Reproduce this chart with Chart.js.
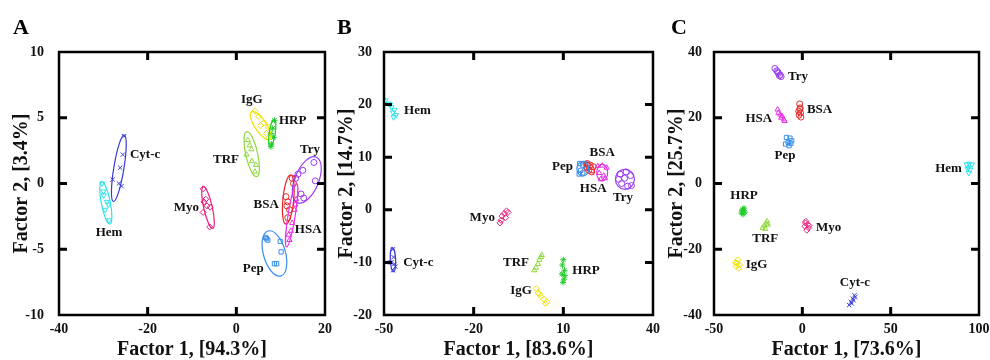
<!DOCTYPE html>
<html>
<head>
<meta charset="utf-8">
<script src="https://cdn.jsdelivr.net/npm/chart.js@4.4.1/dist/chart.umd.min.js"></script>
<style>
    html, body { margin: 0; padding: 0; background: #fff; }
    #wrap { position: relative; width: 990px; height: 360px; overflow: hidden; }
    .panel { position: absolute; top: 0; height: 360px; }
</style>
</head>
<body>
<div id="wrap">
    <div class="panel" style="left:0;width:345px"><canvas id="chartA"></canvas></div>
    <div class="panel" style="left:330px;width:345px"><canvas id="chartB"></canvas></div>
    <div class="panel" style="left:660px;width:330px"><canvas id="chartC"></canvas></div>
</div>
<script>
    const proteins = ['Hem', 'Cyt-c', 'Myo', 'TRF', 'IgG', 'HRP', 'Try', 'BSA', 'HSA', 'Pep'];
    const colors = ['#2fe3ea', '#3a3ad8', '#e8207c', '#8fd83c', '#f0e400', '#1fcc2a', '#9a3cf0', '#e8282a', '#e632e6', '#3a8fea'];
    const markers = ['triangle', 'crossRot', 'rectRot', 'triangle', 'rectRot', 'star', 'circle', 'circle', 'triangle', 'rect'];
    const markerRot = [180, 0, 0, 0, 0, 0, 0, 0, 0, 0];

    // panel A: scores [x, y] per protein, same order as proteins
    const pointsA = [
        [[-30.3, 0.0], [-30.0, -0.6], [-29.2, -1.4], [-28.9, -1.6], [-29.6, -2.0], [-28.7, -2.8], [-29.9, -0.9]],
        [[-25.3, 3.6], [-25.6, 2.2], [-26.2, 1.2], [-27.9, 0.3], [-26.5, 0.0], [-25.9, -0.2]],
        [[-7.5, -0.4], [-7.3, -1.4], [-6.6, -1.7], [-5.9, -1.8], [-7.5, -2.2], [-6.0, -3.3], [-6.9, -1.2]],
        [[2.6, 3.3], [2.3, 2.2], [3.4, 2.6], [3.5, 1.7], [4.4, 1.4], [4.2, 0.9], [3.0, 2.9]],
        [[4.2, 5.5], [5.0, 5.1], [6.2, 4.6], [7.2, 4.3], [6.8, 3.8], [5.4, 4.4], [7.3, 3.5]],
        [[8.6, 4.8], [8.2, 4.2], [7.8, 3.8], [8.4, 3.5], [7.9, 3.0], [7.8, 2.8]],
        [[17.5, 1.6], [15.0, 1.0], [13.9, 0.7], [17.8, 0.2], [14.6, -0.8], [15.2, -1.1], [13.4, 0.4]],
        [[12.6, 0.4], [11.2, -1.0], [11.6, -1.4], [12.0, -2.0], [11.6, -2.6], [12.9, 0.0], [11.4, -1.7]],
        [[13.5, -1.2], [13.1, -2.0], [12.6, -3.0], [12.3, -3.6], [12.0, -4.3], [11.8, -3.9], [13.3, -1.6]],
        [[6.8, -4.2], [7.1, -4.3], [9.9, -4.4], [10.1, -5.2], [9.1, -6.1], [8.6, -6.1], [6.6, -4.1]]
    ];
    // confidence ellipses: [centre x, centre y, major end x, major end y, minor/major]
    const ellipsesA = [
        [-29.44, -1.47, -30.37, 0.14, 0.21],
        [-26.5, 1.16, -25.27, 3.69, 0.15],
        [-6.39, -1.83, -7.45, -0.24, 0.2],
        [3.47, 2.23, 2.34, 3.94, 0.26],
        [5.5, 4.4, 3.4, 5.46, 0.35],
        [8.1, 3.84, 8.56, 4.88, 0.22],
        [15.9, 0.27, 18.04, 2.0, 0.48],
        [11.72, -1.22, 12.26, 0.65, 0.22],
        [12.48, -2.4, 13.6, 0.02, 0.11],
        [8.6, -5.32, 7.15, -3.61, 0.47]
    ];
    const labelsA = [
        [-28.7, -3.75, 'center'], [-24.0, 2.2, 'left'], [-8.4, -1.8, 'right'], [0.6, 1.85, 'right'],
        [3.5, 6.4, 'center'], [9.6, 4.8, 'left'], [16.6, 2.6, 'center'], [9.6, -1.6, 'right'],
        [13.2, -3.5, 'left'], [3.8, -6.5, 'center']
    ];

    // panel B
    const pointsB = [
        [[-49.5, 20.8], [-48.5, 20.2], [-47.5, 19.5], [-46.5, 19.0], [-46.0, 18.0], [-47.0, 18.5], [-48.0, 20.0], [-46.8, 17.6]],
        [[-47.0, -7.5], [-46.8, -9.0], [-47.5, -10.0], [-46.5, -10.3], [-47.0, -11.5], [-46.2, -10.8], [-48.0, -10.0]],
        [[-9.0, -0.2], [-9.8, -0.7], [-10.5, -1.2], [-10.8, -2.0], [-9.3, -1.5], [-11.2, -2.5], [-8.5, -0.5]],
        [[2.8, -8.6], [2.0, -9.5], [1.5, -10.3], [0.8, -11.0], [0.3, -11.5], [2.5, -9.0]],
        [[1.0, -15.0], [1.5, -15.8], [2.5, -16.5], [3.5, -17.0], [4.5, -17.5], [2.0, -16.0], [4.0, -17.8]],
        [[10.0, -9.5], [9.7, -10.5], [10.4, -11.5], [9.5, -12.2], [10.2, -13.2], [9.9, -13.8], [10.5, -12.5]],
        [[29.0, 6.8], [31.0, 7.2], [32.5, 6.5], [29.5, 5.0], [31.5, 4.5], [28.5, 5.8], [32.8, 4.6], [30.5, 6.0]],
        [[18.0, 8.8], [19.0, 8.5], [20.0, 8.2], [18.5, 7.5], [19.5, 7.2], [17.8, 8.0]],
        [[21.5, 8.3], [23.0, 8.4], [24.5, 8.0], [22.0, 7.0], [23.5, 6.5], [22.5, 5.8], [24.0, 6.0]],
        [[15.5, 8.8], [16.5, 8.5], [17.5, 8.8], [15.8, 7.5], [16.5, 7.0], [15.3, 6.8], [17.8, 8.0]]
    ];
    // only the clearly outlined clusters of panel B
    const ellipsesB = [
        null,
        [-47.0, -9.5, -47.2, -7.2, 0.22],
        null,
        null,
        null,
        null,
        [30.6, 5.8, 30.6, 7.7, 0.95],
        [18.9, 8.0, 17.6, 8.9, 0.5],
        [23.0, 7.1, 23.0, 8.7, 0.65],
        [16.5, 7.8, 16.5, 9.2, 0.8]
    ];
    const labelsB = [
        [-43.3, 18.9, 'left'], [-43.6, -10.0, 'left'], [-12.9, -1.4, 'right'], [-1.5, -10.0, 'right'],
        [-0.5, -15.4, 'right'], [13.0, -11.6, 'left'], [30.0, 2.3, 'center'], [23.0, 10.8, 'center'],
        [20.0, 4.0, 'center'], [13.2, 8.2, 'right']
    ];

    // panel C
    const pointsC = [
        [[93.0, 5.8], [94.5, 6.0], [96.0, 5.8], [94.0, 4.8], [95.0, 4.2], [94.2, 3.2], [93.5, 4.5]],
        [[29.5, -34.0], [28.5, -35.0], [27.5, -36.0], [26.5, -37.0], [28.0, -36.5], [29.0, -35.5], [30.0, -34.5]],
        [[2.0, -11.5], [3.0, -12.5], [1.5, -13.0], [3.5, -13.5], [2.5, -14.2], [1.8, -12.0], [3.8, -12.8]],
        [[-20.0, -11.5], [-20.5, -12.2], [-21.5, -12.8], [-22.5, -13.5], [-19.5, -12.5], [-21.0, -13.8]],
        [[-36.5, -23.2], [-37.0, -24.2], [-37.5, -25.2], [-36.0, -25.8], [-35.5, -24.8], [-37.8, -24.0]],
        [[-33.0, -7.5], [-34.0, -8.2], [-34.5, -9.0], [-33.5, -9.4], [-32.5, -8.7], [-33.8, -8.0]],
        [[-15.5, 35.0], [-14.5, 34.3], [-13.5, 33.5], [-12.5, 33.0], [-12.0, 32.5], [-14.0, 34.0], [-13.0, 32.8]],
        [[-1.5, 24.2], [-1.2, 23.0], [-2.0, 22.0], [-1.0, 21.5], [-1.8, 20.8], [-0.8, 20.2], [-1.4, 22.6]],
        [[-14.0, 22.5], [-13.5, 21.5], [-12.5, 21.0], [-11.5, 20.5], [-10.5, 19.5], [-10.0, 19.0], [-12.0, 20.0]],
        [[-9.0, 14.0], [-7.0, 13.8], [-6.0, 13.0], [-8.0, 12.5], [-9.5, 12.0], [-7.5, 11.5], [-6.5, 12.2]]
    ];
    const labelsC = [
        [90.3, 4.4, 'right'], [29.8, -30.2, 'center'], [7.7, -13.5, 'left'], [-21.0, -16.9, 'center'],
        [-32.0, -24.8, 'left'], [-33.0, -3.8, 'center'], [-8.1, 32.4, 'left'], [2.6, 22.6, 'left'],
        [-17.1, 19.6, 'right'], [-9.8, 8.4, 'center']
    ];

    const serif = "'Liberation Serif', 'Times New Roman', serif";

    // box with inward ticks on all four sides, clusters' ellipses and names, panel letter
    function panelPlugin(letter, letterX, ellipses, labels) {
        return {
            id: 'panelDeco',
            afterDatasetsDraw(chart) {
                const ctx = chart.ctx;
                const x = chart.scales.x, y = chart.scales.y;
                ctx.save();
                ctx.lineWidth = 1.2;
                (ellipses || []).forEach((e, i) => {
                    if (!e) return;
                    const cx = x.getPixelForValue(e[0]), cy = y.getPixelForValue(e[1]);
                    const ex = x.getPixelForValue(e[2]), ey = y.getPixelForValue(e[3]);
                    const r = Math.hypot(ex - cx, ey - cy);
                    ctx.strokeStyle = colors[i];
                    ctx.beginPath();
                    ctx.ellipse(cx, cy, r, r * e[4], Math.atan2(ey - cy, ex - cx), 0, Math.PI * 2);
                    ctx.stroke();
                });
                ctx.fillStyle = '#111';
                ctx.font = 'bold 13px ' + serif;
                ctx.textBaseline = 'middle';
                labels.forEach((l, i) => {
                    ctx.textAlign = l[2];
                    ctx.fillText(proteins[i], x.getPixelForValue(l[0]), y.getPixelForValue(l[1]));
                });
                ctx.restore();
            },
            afterDraw(chart) {
                const ctx = chart.ctx, a = chart.chartArea;
                const x = chart.scales.x, y = chart.scales.y;
                ctx.save();
                ctx.strokeStyle = '#000';
                ctx.lineWidth = 3;
                ctx.beginPath();
                x.ticks.forEach(t => {
                    const px = x.getPixelForValue(t.value);
                    if (px < a.left + 2 || px > a.right - 2) return;
                    ctx.moveTo(px, a.bottom); ctx.lineTo(px, a.bottom - 8);
                    ctx.moveTo(px, a.top); ctx.lineTo(px, a.top + 8);
                });
                y.ticks.forEach(t => {
                    const py = y.getPixelForValue(t.value);
                    if (py < a.top + 2 || py > a.bottom - 2) return;
                    ctx.moveTo(a.left, py); ctx.lineTo(a.left + 8, py);
                    ctx.moveTo(a.right, py); ctx.lineTo(a.right - 8, py);
                });
                ctx.stroke();
                ctx.lineWidth = 2.5;
                ctx.strokeRect(a.left, a.top, a.right - a.left, a.bottom - a.top);
                ctx.fillStyle = '#000';
                ctx.font = 'bold 22px ' + serif;
                ctx.textAlign = 'left';
                ctx.textBaseline = 'alphabetic';
                ctx.fillText(letter, letterX, 34);
                ctx.restore();
            }
        };
    }

    function makePanel(canvasId, cfg) {
        const datasets = proteins.map((name, i) => ({
            label: name,
            data: cfg.points[i].map(p => ({ x: p[0], y: p[1] })),
            borderColor: colors[i],
            backgroundColor: 'rgba(0,0,0,0)',
            pointStyle: markers[i],
            rotation: markerRot[i],
            pointRadius: cfg.radius,
            pointBorderWidth: 1
        }));
        return new Chart(document.getElementById(canvasId), {
            type: 'scatter',
            data: { datasets: datasets },
            options: {
                responsive: true,
                maintainAspectRatio: false,
                animation: false,
                layout: { padding: { top: 52, right: cfg.rightPad, left: 0, bottom: 0 } },
                plugins: { legend: { display: false }, tooltip: { enabled: false } },
                scales: {
                    x: {
                        type: 'linear',
                        min: cfg.xMin, max: cfg.xMax,
                        grid: { display: false },
                        border: { display: false },
                        ticks: { stepSize: cfg.xStep, color: '#111', padding: -2, maxRotation: 0,
                                 font: { family: serif, size: 14, weight: 'bold' } },
                        title: { display: true, text: cfg.xTitle, color: '#111', padding: { top: 0, bottom: -1 },
                                 font: { family: serif, size: 20, weight: 'bold', lineHeight: 1.1 } },
                        afterFit: s => { s.height = 45; }
                    },
                    y: {
                        type: 'linear',
                        min: cfg.yMin, max: cfg.yMax,
                        grid: { display: false },
                        border: { display: false },
                        ticks: { stepSize: cfg.yStep, color: '#111', padding: cfg.yTickPad,
                                 font: { family: serif, size: 14, weight: 'bold' } },
                        title: { display: true, text: cfg.yTitle, color: '#111', padding: { top: cfg.yTitlePad, bottom: 0 },
                                 font: { family: serif, size: 20, weight: 'bold', lineHeight: 1.1 } },
                        afterFit: s => { s.width = cfg.yWidth; }
                    }
                }
            },
            plugins: [panelPlugin(cfg.letter, cfg.letterX, cfg.ellipses, cfg.labels)]
        });
    }

    makePanel('chartA', {
        letter: 'A', letterX: 13, points: pointsA, ellipses: ellipsesA, labels: labelsA, radius: 3,
        xMin: -40, xMax: 20, xStep: 20, yMin: -10, yMax: 10, yStep: 5,
        xTitle: 'Factor 1, [94.3%]', yTitle: 'Factor 2, [3.4%]',
        yWidth: 59, rightPad: 20, yTitlePad: 11, yTickPad: 7
    });
    makePanel('chartB', {
        letter: 'B', letterX: 7, points: pointsB, ellipses: ellipsesB, labels: labelsB, radius: 3,
        xMin: -50, xMax: 40, xStep: 30, yMin: -20, yMax: 30, yStep: 10,
        xTitle: 'Factor 1, [83.6%]', yTitle: 'Factor 2, [14.7%]',
        yWidth: 54, rightPad: 22, yTitlePad: 6, yTickPad: 4
    });
    makePanel('chartC', {
        letter: 'C', letterX: 11, points: pointsC, ellipses: null, labels: labelsC, radius: 3,
        xMin: -50, xMax: 100, xStep: 50, yMin: -40, yMax: 40, yStep: 20,
        xTitle: 'Factor 1, [73.6%]', yTitle: 'Factor 2, [25.7%]',
        yWidth: 54, rightPad: 11, yTitlePad: 6, yTickPad: 4
    });
</script>
</body>
</html>
